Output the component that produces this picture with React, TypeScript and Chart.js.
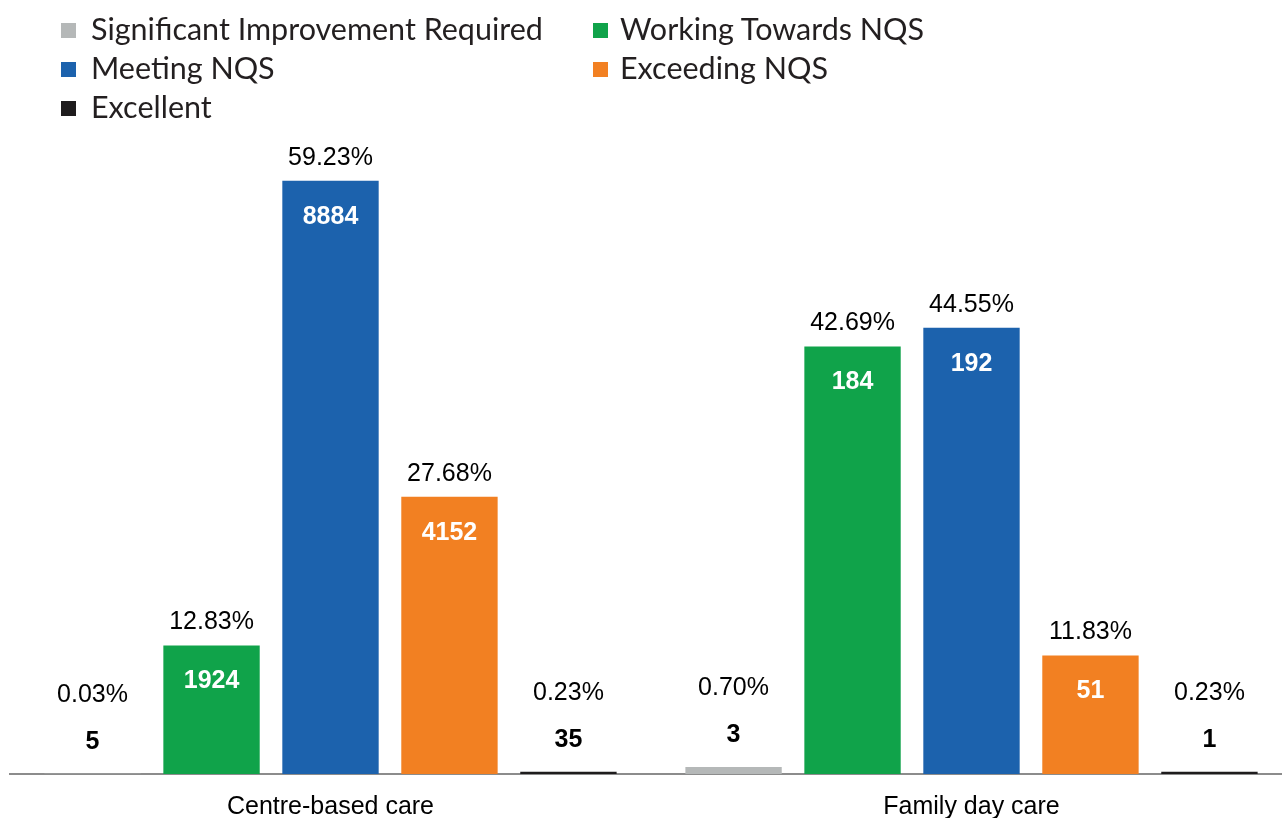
import React, { useEffect, useRef } from "react";
import { Chart, registerables } from "chart.js";

Chart.register(...registerables);

const categories = ["Centre-based care", "Family day care"];
const ratings = [
  "Significant Improvement Required",
  "Working Towards NQS",
  "Meeting NQS",
  "Exceeding NQS",
  "Excellent",
];
const colors = ["#B5B8B8", "#10A34A", "#1C62AD", "#F28022", "#1E1C1D"];
const centrePercent = [0.03, 12.83, 59.23, 27.68, 0.23];
const familyPercent = [0.7, 42.69, 44.55, 11.83, 0.23];
const centreCount = [5, 1924, 8884, 4152, 35];
const familyCount = [3, 184, 192, 51, 1];

const percents = [centrePercent, familyPercent];
const counts = [centreCount, familyCount];

const FONT = "'Liberation Sans', Arial, sans-serif";

const labelPlugin = {
  id: "barLabels",
  afterDatasetsDraw(chart: any) {
    const ctx = chart.ctx;
    ctx.save();
    ctx.textAlign = "center";
    ctx.textBaseline = "middle";
    chart.data.datasets.forEach((ds: any, di: number) => {
      const meta = chart.getDatasetMeta(di);
      meta.data.forEach((bar: any, ci: number) => {
        const { x, y, base } = bar.getProps(["x", "y", "base"], true);
        const h = base - y;
        const pct = percents[ci][di].toFixed(2) + "%";
        const cnt = String(counts[ci][di]);
        if (h > 50) {
          ctx.font = `25px ${FONT}`;
          ctx.fillStyle = "#000";
          ctx.fillText(pct, x, y - 23);
          ctx.font = `bold 25px ${FONT}`;
          ctx.fillStyle = "#fff";
          ctx.fillText(cnt, x, y + 36);
        } else {
          ctx.font = `bold 25px ${FONT}`;
          ctx.fillStyle = "#000";
          ctx.fillText(cnt, x, y - 32);
          ctx.font = `25px ${FONT}`;
          ctx.fillText(pct, x, y - 79);
        }
      });
    });
    ctx.restore();
  },
};

export default function App() {
  const canvasRef = useRef<HTMLCanvasElement | null>(null);

  useEffect(() => {
    if (!canvasRef.current) return;
    const chart = new Chart(canvasRef.current, {
      type: "bar",
      data: {
        labels: categories,
        datasets: ratings.map((r, di) => ({
          label: r,
          data: percents.map((p) => p[di]),
          backgroundColor: colors[di],
          borderWidth: 0,
          barPercentage: 0.81,
          categoryPercentage: 0.928,
        })),
      },
      options: {
        animation: false,
        responsive: true,
        maintainAspectRatio: false,
        layout: { padding: { left: 10, right: 8, top: 173, bottom: 4 } },
        plugins: {
          legend: { display: false },
          tooltip: { enabled: false },
        },
        scales: {
          x: {
            grid: { display: false, drawTicks: false },
            border: { display: true, color: "#8C8C8C", width: 2 },
            ticks: {
              color: "#000",
              padding: 18,
              font: { family: FONT, size: 25 },
            },
          },
          y: {
            display: false,
            min: 0,
            max: 60,
          },
        },
      },
      plugins: [labelPlugin],
    });
    return () => chart.destroy();
  }, []);

  return (
    <div
      style={{
        position: "fixed",
        left: 0,
        top: 0,
        width: 1282,
        height: 818,
        overflow: "hidden",
        background: "#fff",
      }}
    >
      {ratings.map((r, i) => {
        const col = i % 2;
        const row = Math.floor(i / 2);
        return (
          <div
            key={r}
            style={{
              position: "absolute",
              left: col === 0 ? 61 : 593,
              top: 9 + row * 39,
              height: 39,
              display: "flex",
              alignItems: "center",
              fontFamily: "Lato, 'Noto Sans', sans-serif",
              fontSize: 30.5,
              color: "#231F20",
              whiteSpace: "nowrap",
              lineHeight: 1,
              zIndex: 1,
            }}
          >
            <span
              style={{
                display: "inline-block",
                width: 15,
                height: 15,
                background: colors[i],
                marginRight: col === 0 ? 15 : 12,
                marginTop: 4,
              }}
            />
            <span>{r}</span>
          </div>
        );
      })}
      <div style={{ position: "absolute", left: 0, top: 0, width: 1300, height: 844 }}>
        <canvas ref={canvasRef} />
      </div>
    </div>
  );
}
